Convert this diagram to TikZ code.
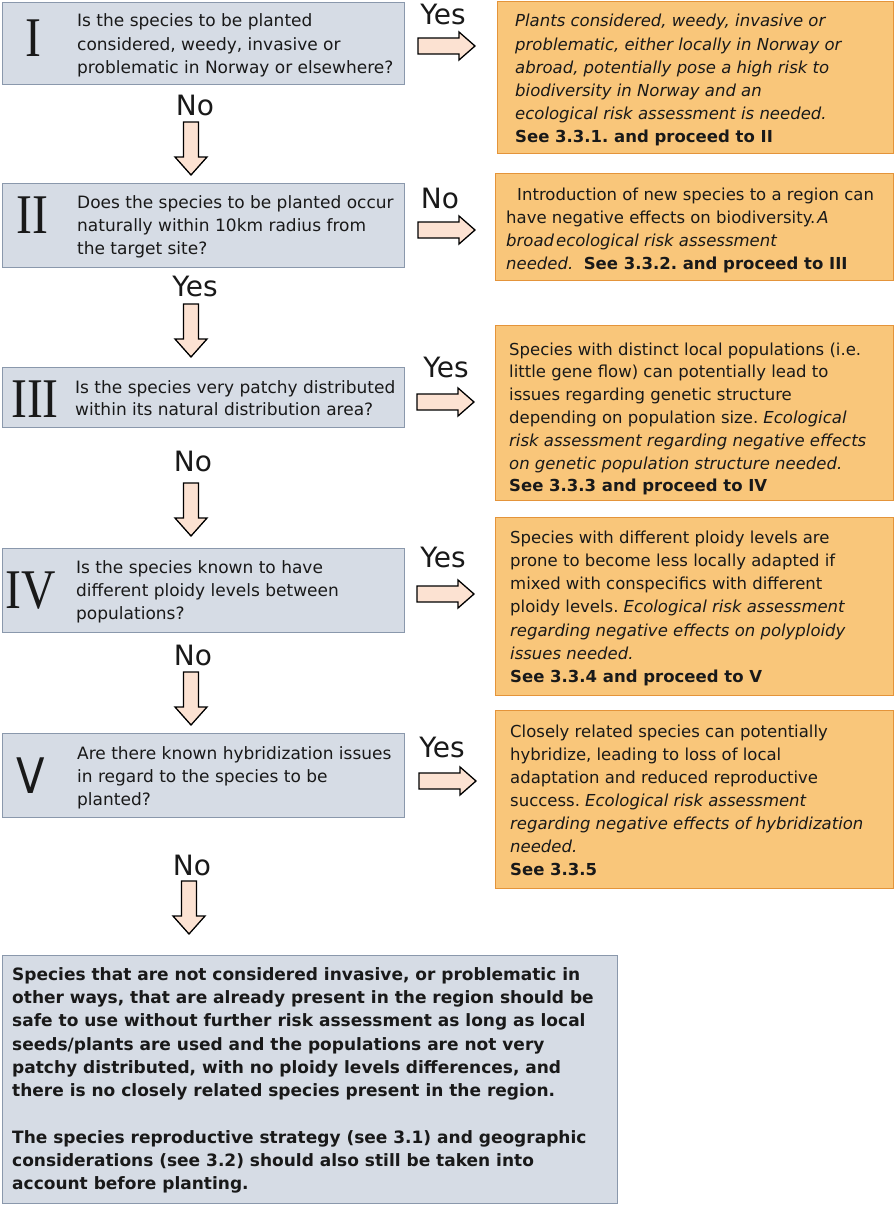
\documentclass[tikz,border=0pt]{standalone}
\usepackage{fontspec}
\setmainfont{DejaVu Sans}[ItalicFont={DejaVu Sans Oblique},BoldFont={DejaVu Sans Bold},BoldItalicFont={DejaVu Sans Bold Oblique}]
\newfontfamily\romfont[FakeStretch=0.85]{Liberation Serif}
\newfontfamily\vfont[FakeStretch=0.85]{DejaVu Sans}
\frenchspacing
\definecolor{grayfill}{RGB}{214,220,229}
\definecolor{grayedge}{RGB}{138,152,172}
\definecolor{orangefill}{RGB}{249,198,122}
\definecolor{orangeedge}{RGB}{228,148,58}
\definecolor{arrfill}{RGB}{252,226,210}
\definecolor{txt}{RGB}{25,25,25}
\tikzset{
  graybox/.style={draw=grayedge, fill=grayfill, line width=1.2pt, inner sep=0pt, anchor=north west},
  orangebox/.style={draw=orangeedge, fill=orangefill, line width=1.2pt, inner sep=0pt, anchor=north west},
  qtext/.style={anchor=base west, inner sep=0pt, text=txt, font=\fontsize{17}{23.3}\selectfont},
  otext/.style={anchor=base west, inner sep=0pt, text=txt, font=\fontsize{16.5}{23.2}\selectfont},
  ftext/.style={anchor=base west, inner sep=0pt, text=txt, font=\fontsize{17}{23.33}\selectfont\bfseries},
  roman/.style={anchor=base, inner sep=0pt, text=txt, font=\fontsize{56}{56}\selectfont\romfont},
  romanv/.style={anchor=base, inner sep=0pt, text=txt, font=\fontsize{49}{49}\selectfont\vfont},
  lbl/.style={anchor=base, inner sep=0pt, text=txt, font=\fontsize{28}{28}\selectfont},
  blockarrow/.style={draw=black, fill=arrfill, line width=1.3pt, line join=miter},
  rarr/.pic={\draw[blockarrow] (0,-8) -- (41,-8) -- (41,-14) -- (57,0) -- (41,14) -- (41,8) -- (0,8) -- cycle;},
  darr/.pic={\draw[blockarrow] (-7.5,0) -- (7.5,0) -- (7.5,35) -- (16,35) -- (0,53) -- (-16,35) -- (-7.5,35) -- cycle;}
}
\begin{document}
\begin{tikzpicture}[x=1pt,y=-1pt]
\useasboundingbox (0,0) rectangle (894,1207);

% question boxes
\node[graybox, minimum width=402pt, minimum height=82pt] (q1) at (2,2) {};
\node[graybox, minimum width=402pt, minimum height=84pt] (q2) at (2,183) {};
\node[graybox, minimum width=402pt, minimum height=60pt] (q3) at (2,367) {};
\node[graybox, minimum width=402pt, minimum height=84pt] (q4) at (2,548) {};
\node[graybox, minimum width=402pt, minimum height=84pt] (q5) at (2,733) {};
\node[graybox, minimum width=615pt, minimum height=248pt] (fin) at (2,955) {};

% roman numerals
\node[roman] (r1) at (33,57) {I};
\node[roman] (r2) at (32,233) {II};
\node[roman] (r3) at (35,417) {III};
\node[roman] (r4) at (31,608) {IV};
\node[romanv] (r5) at (31,793) {V};

% question texts
\node[qtext] (t1) at (77,27) {\parbox[t]{330pt}{\raggedright Is the species to be planted\\considered, weedy, invasive or\\problematic in Norway or elsewhere?}};
\node[qtext] (t2) at (77,208) {\parbox[t]{330pt}{\raggedright Does the species to be planted occur\\naturally within 10km radius from\\the target site?}};
\node[qtext] (t3) at (75,393) {\parbox[t]{330pt}{\fontsize{17}{22}\selectfont\raggedright Is the species very patchy distributed\\within its natural distribution area?}};
\node[qtext] (t4) at (76,573) {\parbox[t]{330pt}{\raggedright Is the species known to have\\different ploidy levels between\\populations?}};
\node[qtext] (t5) at (77,759) {\parbox[t]{330pt}{\raggedright Are there known hybridization issues\\in regard to the species to be\\planted?}};

% outcome boxes
\node[orangebox, minimum width=396pt, minimum height=152pt] (o1) at (497,1) {};
\node[orangebox, minimum width=398pt, minimum height=107pt] (o2) at (495,173) {};
\node[orangebox, minimum width=398pt, minimum height=175pt] (o3) at (495,325) {};
\node[orangebox, minimum width=398pt, minimum height=178pt] (o4) at (495,517) {};
\node[orangebox, minimum width=398pt, minimum height=178pt] (o5) at (495,710) {};

\node[otext] (ot1) at (515,27) {\parbox[t]{375pt}{\raggedright\itshape Plants considered, weedy, invasive or\\problematic, either locally in Norway or\\abroad, potentially pose a high risk to\\biodiversity in Norway and an\\ecological risk assessment is needed.\\\upshape\bfseries See 3.3.1. and proceed to II}};
\node[otext] (ot2) at (506,200) {\parbox[t]{385pt}{\raggedright\hspace*{11pt}Introduction of new species to a region can\\have negative effects on biodiversity.\hspace{2pt}\textit{A}\\\textit{broad\hspace{2pt}ecological risk assessment}\\\textit{needed.}\ \ \textbf{See 3.3.2. and proceed to III}}};
\node[otext] (ot3) at (509,355) {\parbox[t]{380pt}{\fontsize{16.5}{22.8}\selectfont\raggedright Species with distinct local populations (i.e.\\little gene flow) can potentially lead to\\issues regarding genetic structure\\depending on population size. \textit{Ecological}\\\textit{risk assessment regarding negative effects}\\\textit{on genetic population structure needed.}\\\textbf{See 3.3.3 and proceed to IV}}};
\node[otext] (ot4) at (510,543) {\parbox[t]{380pt}{\fontsize{16.5}{23.3}\selectfont\raggedright Species with different ploidy levels are\\prone to become less locally adapted if\\mixed with conspecifics with different\\ploidy levels. \textit{Ecological risk assessment}\\\textit{regarding negative effects on polyploidy}\\\textit{issues needed.}\\\textbf{See 3.3.4 and proceed to V}}};
\node[otext] (ot5) at (510,737) {\parbox[t]{380pt}{\fontsize{16.5}{23}\selectfont\raggedright Closely related species can potentially\\hybridize, leading to loss of local\\adaptation and reduced reproductive\\success. \textit{Ecological risk assessment}\\\textit{regarding negative effects of hybridization}\\\textit{needed.}\\\textbf{See 3.3.5}}};

% final text
\node[ftext] (ft) at (12,980) {\parbox[t]{600pt}{\raggedright Species that are not considered invasive, or problematic in\\other ways, that are already present in the region should be\\safe to use without further risk assessment as long as local\\seeds/plants are used and the populations are not very\\patchy distributed, with no ploidy levels differences, and\\there is no closely related species present in the region.\\[23.33pt]The species reproductive strategy (see 3.1) and geographic\\considerations (see 3.2) should also still be taken into\\account before planting.}};

% labels
\node[lbl] (l1y) at (443,25) {Yes};
\node[lbl] (l1n) at (195,115) {No};
\node[lbl] (l2n) at (440,208) {No};
\node[lbl] (l2y) at (195,296) {Yes};
\node[lbl] (l3y) at (446,377) {Yes};
\node[lbl] (l3n) at (193,471) {No};
\node[lbl] (l4y) at (443,567) {Yes};
\node[lbl] (l4n) at (193,665) {No};
\node[lbl] (l5y) at (442,757) {Yes};
\node[lbl] (l5n) at (192,875) {No};

% block arrows
\pic (a1r) at (418,46) {rarr};
\pic (a2r) at (418,230) {rarr};
\pic (a3r) at (417,402) {rarr};
\pic (a4r) at (417,594) {rarr};
\pic (a5r) at (419,781) {rarr};
\pic (a1d) at (191,122) {darr};
\pic (a2d) at (191,304) {darr};
\pic (a3d) at (191,483) {darr};
\pic (a4d) at (191,672) {darr};
\pic (a5d) at (189,881) {darr};
\end{tikzpicture}
\end{document}
